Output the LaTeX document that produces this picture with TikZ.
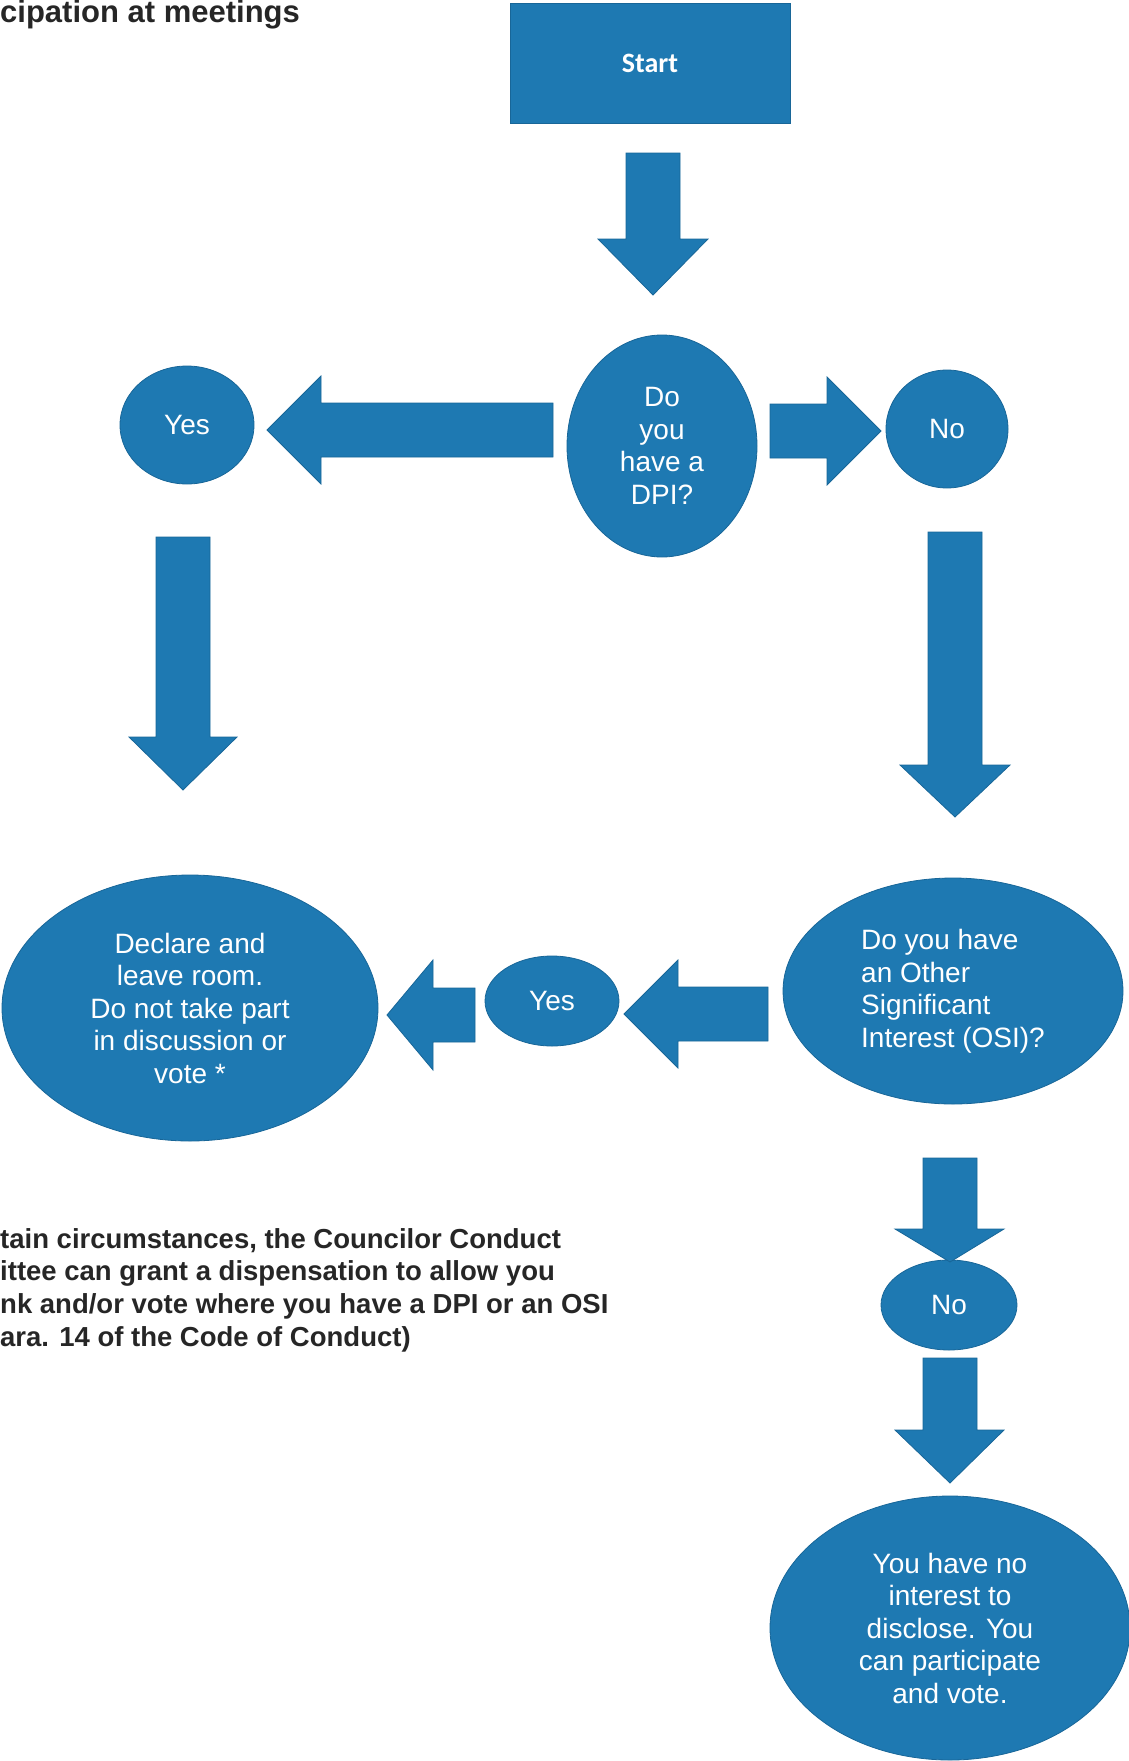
\documentclass[tikz,border=0pt]{standalone}
\usepackage{fontspec}
\setmainfont{Liberation Sans}
\newfontfamily\calibrifont{Carlito}
\usetikzlibrary{shapes.geometric}
\definecolor{flowblue}{RGB}{30,121,178}
\definecolor{flowedge}{RGB}{24,102,152}
\definecolor{inkgray}{RGB}{38,38,38}
\begin{document}
\begin{tikzpicture}[x=1pt,y=-1pt,
  shapebox/.style={fill=flowblue, draw=flowedge, line width=0.8pt, text=white,
    font=\fontsize{28}{32.5}\selectfont, align=center, inner sep=0pt},
  oval/.style={shapebox, ellipse},
  blockarrow/.style={fill=flowblue, draw=flowedge, line width=0.8pt, line join=miter}]
\useasboundingbox (0,0) rectangle (1129,1761);

% title and footnote
\node[anchor=base west, inner sep=0pt, text=inkgray, font=\bfseries\fontsize{31}{36}\selectfont] (title) at (0,23) {cipation at meetings};
\node[anchor=north west, inner sep=0pt, text=inkgray, align=left, font=\bfseries\fontsize{27.5}{32.7}\selectfont] (footnote) at (0,1228)
  {tain circumstances, the Councilor Conduct\\ittee can grant a dispensation to allow you\\nk and/or vote where you have a DPI or an OSI\\ara. 14 of the Code of Conduct)};

% nodes
\node[shapebox, rectangle, minimum width=280pt, minimum height=120pt, font=\calibrifont\bfseries\fontsize{28}{32}\selectfont] (start) at (650,63) {Start};
\node[oval, minimum width=190pt, minimum height=222pt] (dpi) at (662,446) {Do\\you\\have a\\DPI?};
\node[oval, minimum width=134pt, minimum height=118pt] (yes1) at (187,425) {Yes};
\node[oval, minimum width=122pt, minimum height=118pt] (no1) at (947,429) {No};
\node[oval, minimum width=376pt, minimum height=266pt] (declare) at (190,1008) {Declare and\\leave room.\\Do not take part\\in discussion or\\vote *};
\node[oval, minimum width=134pt, minimum height=90pt] (yes2) at (552,1001) {Yes};
\node[oval, minimum width=340pt, minimum height=226pt, align=left] (osi) at (953,991) {Do you have\\an Other\\Significant\\Interest (OSI)?};
\node[oval, minimum width=136pt, minimum height=90pt] (no2) at (949,1305) {No};
\node[oval, minimum width=360pt, minimum height=264pt] (final) at (950,1628) {You have no\\interest to\\disclose. You\\can participate\\and vote.};

% block arrows
% start -> dpi
\filldraw[blockarrow] (626,153) -- (680,153) -- (680,239) -- (708,239) -- (653,295) -- (598,239) -- (626,239) -- cycle;
% dpi -> yes1
\filldraw[blockarrow] (553,403) -- (553,457) -- (321,457) -- (321,484) -- (267,430) -- (321,376) -- (321,403) -- cycle;
% dpi -> no1
\filldraw[blockarrow] (770,404) -- (827,404) -- (827,377) -- (881,431) -- (827,485) -- (827,458) -- (770,458) -- cycle;
% yes1 -> declare
\filldraw[blockarrow] (156,537) -- (210,537) -- (210,737) -- (237,737) -- (183,790) -- (129,737) -- (156,737) -- cycle;
% no1 -> osi
\filldraw[blockarrow] (928,532) -- (982,532) -- (982,765) -- (1010,765) -- (955,817) -- (900,765) -- (928,765) -- cycle;
% osi -> yes2
\filldraw[blockarrow] (768,987) -- (768,1041) -- (678,1041) -- (678,1068) -- (624,1014) -- (678,960) -- (678,987) -- cycle;
% yes2 -> declare
\filldraw[blockarrow] (475,988) -- (475,1042) -- (433,1042) -- (433,1070) -- (387,1015) -- (433,960) -- (433,988) -- cycle;
% osi -> no2
\filldraw[blockarrow] (923,1158) -- (977,1158) -- (977,1229) -- (1004,1229) -- (950,1262) -- (895,1229) -- (923,1229) -- cycle;
% no2 -> final
\filldraw[blockarrow] (923,1358) -- (977,1358) -- (977,1430) -- (1004,1430) -- (950,1483) -- (895,1430) -- (923,1430) -- cycle;
\end{tikzpicture}
\end{document}
